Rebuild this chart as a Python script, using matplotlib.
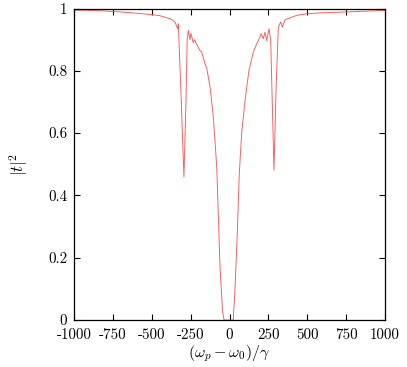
import matplotlib
matplotlib.use("Agg")
import matplotlib.pyplot as plt

detuning = [-1000, -900, -800, -700, -600, -511, -450, -415, -383, -372, -350, -333, -329,
            -310, -293, -280, -272, -265, -254, -248, -233, -226, -211, -190, -179, -158,
            -147, -125, -104, -82, -61, -45, -35, -20, -5, 10, 24, 35, 50, 63, 78, 100, 125,
            153, 175, 196, 203, 217, 228, 239, 254, 265, 286, 300, 314, 329, 340, 357, 389,
            432, 496, 582, 700, 754, 850, 1000]
transmission = [0.995, 0.994, 0.992, 0.989, 0.985, 0.981, 0.977, 0.972, 0.967, 0.965, 0.956,
                0.935, 0.951, 0.70, 0.459, 0.70, 0.90, 0.930, 0.900, 0.920, 0.890, 0.900,
                0.885, 0.865, 0.860, 0.823, 0.810, 0.748, 0.652, 0.491, 0.171, 0.03, 0.0,
                0.0, 0.0, 0.0, 0.0, 0.096, 0.278, 0.470, 0.598, 0.705, 0.801, 0.860, 0.887,
                0.908, 0.919, 0.903, 0.924, 0.897, 0.935, 0.897, 0.481, 0.75, 0.940, 0.957,
                0.940, 0.964, 0.970, 0.978, 0.983, 0.986, 0.988, 0.989, 0.991, 0.994]

xticks = [-1000, -750, -500, -250, 0, 250, 500, 750, 1000]
xticklabels = ["-1000", "-750", "-500", "-250", "0", "250", "500", "750", "1000"]
yticks = [0, 0.2, 0.4, 0.6, 0.8, 1.0]
yticklabels = ["0", "0.2", "0.4", "0.6", "0.8", "1"]

plt.rcParams['font.family'] = ['cmr10', 'DejaVu Serif']
plt.rcParams['mathtext.fontset'] = 'cm'
plt.rcParams['axes.unicode_minus'] = False

fig = plt.figure(figsize=(4.07, 3.67), dpi=100)
ax = fig.add_axes([74/407, 47/367, 311/407, 311.5/367])
ax.plot(detuning, transmission, color='#ff5555', lw=0.65)
ax.set_xlim(-1000, 1000)
ax.set_ylim(0, 1)
ax.set_xticks(xticks)
ax.set_xticklabels(xticklabels, fontsize=10.8)
ax.set_yticks(yticks)
ax.set_yticklabels(yticklabels, fontsize=10.8)
ax.tick_params(direction='in', top=True, right=True, length=4, width=0.8)
ax.tick_params(axis='x', pad=6)
ax.tick_params(axis='y', pad=5)
for s in ax.spines.values():
    s.set_linewidth(0.9)
ax.set_xlabel(r'$(\omega_p - \omega_0)/\gamma$', fontsize=11.5, labelpad=1)
ax.set_ylabel(r'$|t|^2$', fontsize=12, labelpad=13)
fig.savefig('out.png', dpi=100)
